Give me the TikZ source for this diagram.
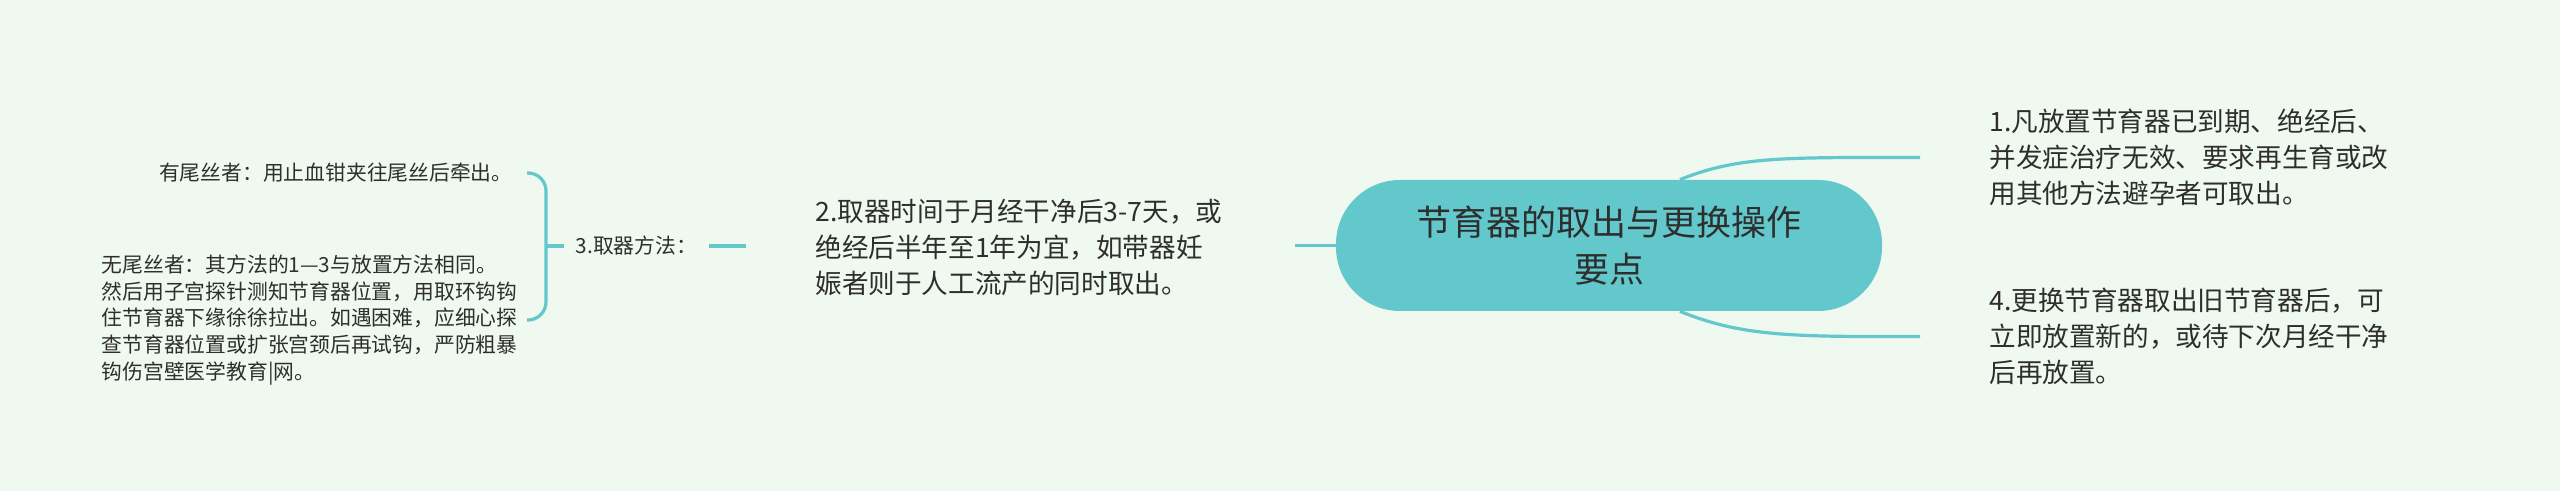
\documentclass[tikz,border=0pt]{standalone}
\usepackage{fontspec}
\setmainfont{Noto Sans CJK SC}
\usetikzlibrary{calc,backgrounds}
\definecolor{bgc}{HTML}{F0F9F0}
\definecolor{teal1}{HTML}{62C8CC}
\definecolor{txt}{HTML}{2E2E2E}
\begin{document}
\begin{tikzpicture}[x=0.5pt,y=-0.5pt,
  link/.style={draw=teal1, line width=1.6pt},
  centerbox/.style={fill=teal1, rounded corners=32pt, minimum width=273pt, minimum height=65.5pt,
    align=center, font=\fontsize{17.5pt}{23.5pt}\selectfont, text=txt},
  mainbox/.style={align=left, font=\fontsize{13.3pt}{18pt}\selectfont, text=txt, inner xsep=34.5pt, inner ysep=4pt},
  subbox/.style={align=left, font=\fontsize{10.4pt}{13.3pt}\selectfont, text=txt}]
\useasboundingbox (0,0) rectangle (2560,491);

\node[centerbox] (c) at (1609,245.5) {节育器的取出与更换操作\\要点};

\node[mainbox, text width=202pt, anchor=west] (n1) at (1920,157.5)
  {1.凡放置节育器已到期、绝经后、\\并发症治疗无效、要求再生育或改\\用其他方法避孕者可取出。};
\node[mainbox, text width=202pt, anchor=west] (n4) at (1920,336.5)
  {4.更换节育器取出旧节育器后，可\\立即放置新的，或待下次月经干净\\后再放置。};
\node[mainbox, text width=205pt] (n2) at (1020.5,247.5)
  {2.取器时间于月经干净后3-7天，或\\绝经后半年至1年为宜，如带器妊\\娠者则于人工流产的同时取出。};

\node[subbox, anchor=west, minimum width=72pt, inner xsep=0pt, align=center] (n3) at (564,246) {3.取器方法：};

\node[subbox, anchor=east, inner xsep=7pt] (a) at (527,173) {有尾丝者：用止血钳夹往尾丝后牵出。};
\node[subbox, anchor=east, inner xsep=4.5pt] (b) at (527,320)
  {无尾丝者：其方法的1—3与放置方法相同。\\然后用子宫探针测知节育器位置，用取环钩钩\\住节育器下缘徐徐拉出。如遇困难，应细心探\\查节育器位置或扩张宫颈后再试钩，严防粗暴\\钩伤宫壁医学教育|网。};

\begin{scope}[on background layer]
\fill[bgc] (0,0) rectangle (2560,491);
\draw[link] ([xshift=35.5pt]c.north) .. controls +(50,-20) and +(-100,0) .. ([xshift=-25pt]n1.west) -- (n1.west);
\draw[link] ([xshift=35.5pt]c.south) .. controls +(50,20) and +(-100,0) .. ([xshift=-25pt]n4.west) -- (n4.west);
\draw[link] (c.west) -- (c.west -| n2.east);
\draw[link] (n2.west |- n3.east) -- (n3.east);
\draw[link, rounded corners=9pt] (a.east) -- ++(19,0) |- (b.east);
\draw[link] (n3.west) -- ++(-18,0);
\end{scope}
\end{tikzpicture}
\end{document}
